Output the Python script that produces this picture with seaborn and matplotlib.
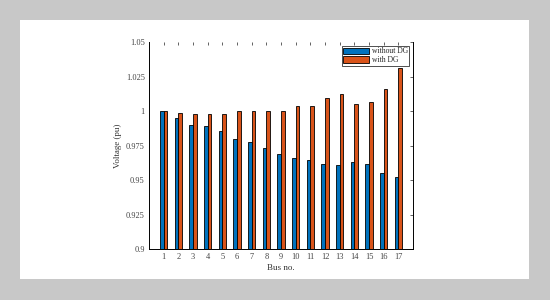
import matplotlib
matplotlib.use("Agg")
import matplotlib.pyplot as plt
import seaborn as sns
import pandas as pd
from matplotlib.patches import Rectangle

buses = [str(i) for i in range(1, 18)]
without_dg = [1.0, 0.9946, 0.9895, 0.9888, 0.9852, 0.9794, 0.9777, 0.9735, 0.9692,
              0.9656, 0.9648, 0.9619, 0.9607, 0.9627, 0.9619, 0.9552, 0.9525]
with_dg = [1.0, 0.9985, 0.9977, 0.9977, 0.9977, 1.0, 1.0, 1.0, 1.0,
           1.0038, 1.0038, 1.0091, 1.0120, 1.0048, 1.0062, 1.0156, 1.0314]
series_names = ["without DG", "with DG"]
yticks = [0.9, 0.925, 0.95, 0.975, 1.0, 1.025, 1.05]
ytick_labels = ["0.9", "0.925", "0.95", "0.975", "1", "1.025", "1.05"]

df = pd.DataFrame({
    "Bus": buses * 2,
    "Voltage": without_dg + with_dg,
    "Series": [series_names[0]] * len(buses) + [series_names[1]] * len(buses),
})

sns.set_style("white")
plt.rcParams["font.family"] = ["Liberation Serif", "DejaVu Serif"]

fig = plt.figure(figsize=(5.5, 3.0), dpi=100)
fig.patch.set_facecolor("#c8c8c8")
bg = Rectangle((20 / 550, 21 / 300), 509 / 550, 259 / 300,
               transform=fig.transFigure, facecolor="white",
               edgecolor="none", zorder=-10)
fig.add_artist(bg)
ax = fig.add_axes([149 / 550, 51 / 300, 264 / 550, 207 / 300])
ax.set_facecolor("white")
ax.set_zorder(1)

sns.barplot(data=df, x="Bus", y="Voltage", hue="Series", ax=ax,
            palette=["#0072BD", "#D95319"], width=0.52, gap=0.0,
            edgecolor="black", linewidth=0.6, saturation=1)

ax.set_xlim(-1, 17)
ax.set_ylim(0.9, 1.05)
ax.set_yticks(yticks)
ax.set_yticklabels(ytick_labels)
ax.set_xlabel("Bus no.", fontsize=6.5, labelpad=2, color="#333333")
ax.set_ylabel("Voltage (pu)", fontsize=6.5, labelpad=3, color="#333333")
ax.tick_params(axis="both", direction="in", labelsize=6, length=2.5, width=0.5,
               top=True, right=True, colors="#222222", labelcolor="#444444", pad=3)
for side in ["left", "right", "bottom"]:
    ax.spines[side].set_visible(True)
    ax.spines[side].set_color("black")
    ax.spines[side].set_linewidth(0.7)
ax.spines["top"].set_visible(False)

leg = ax.legend(loc="upper right", fontsize=5.5, frameon=True, fancybox=False,
                edgecolor="black", handlelength=3.4, handleheight=0.9,
                borderpad=0.2, labelspacing=0.1, handletextpad=0.3,
                borderaxespad=0.5)
leg.get_frame().set_linewidth(0.6)

fig.savefig("out.png", dpi=100, facecolor=fig.get_facecolor())
